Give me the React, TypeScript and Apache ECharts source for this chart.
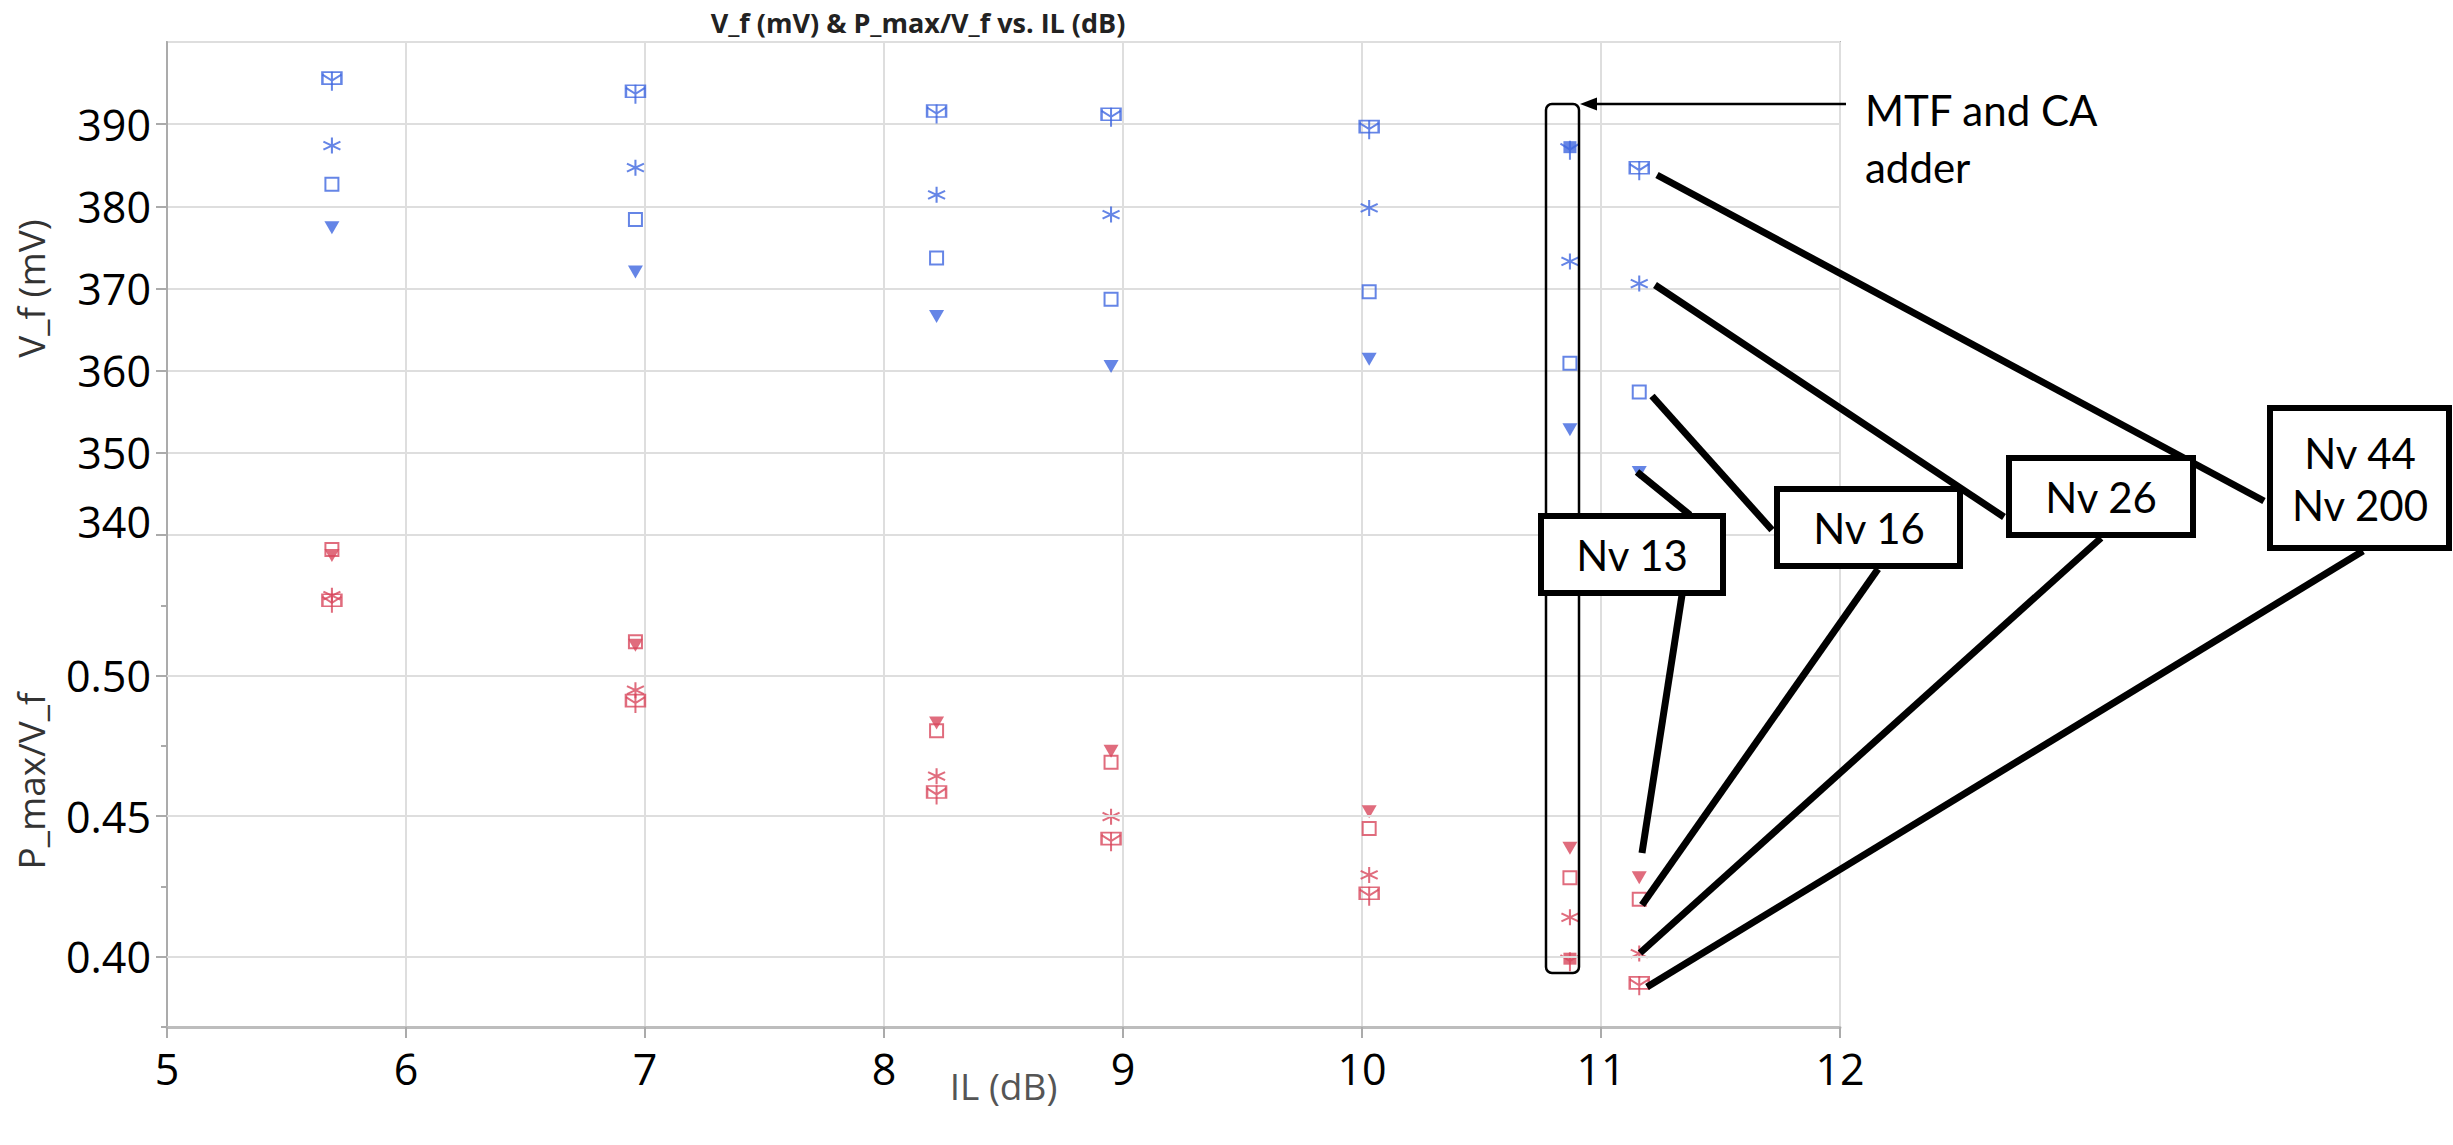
import React, { useEffect, useRef } from "react";
import * as echarts from "echarts";

// ---------------- data ----------------
const IL = [5.69, 6.96, 8.22, 8.95, 10.03, 10.87, 11.16];

const VF_NV13 = [377.4, 372.0, 366.6, 360.5, 361.4, 352.8, 347.6];
const VF_NV16 = [382.7, 378.4, 373.7, 368.7, 369.6, 360.9, 357.4];
const VF_NV26 = [387.4, 384.7, 381.4, 379.0, 379.8, 373.3, 370.6];
const VF_NV44 = [395.6, 394.0, 391.6, 391.2, 389.7, 387.2, 384.7];
const VF_NV200 = [395.6, 394.0, 391.6, 391.2, 389.7, 387.2, 384.7];

const PV_NV13 = [0.5427, 0.5108, 0.4831, 0.4731, 0.4516, 0.4386, 0.4281];
const PV_NV16 = [0.5448, 0.512, 0.4804, 0.4692, 0.4456, 0.4281, 0.4204];
const PV_NV26 = [0.5284, 0.4948, 0.4642, 0.4498, 0.4291, 0.414, 0.4011];
const PV_NV44 = [0.5268, 0.4911, 0.4586, 0.442, 0.4226, 0.3993, 0.3907];
const PV_NV200 = [0.5268, 0.4911, 0.4586, 0.442, 0.4226, 0.3993, 0.3907];

const ADDER_INDEX = 5; // the "MTF and CA adder" column
const PV_LABELS = [0.4, 0.45, 0.5];
const PV_MINOR = [0.375, 0.425, 0.475, 0.525];

const TITLE = "V_f (mV) & P_max/V_f vs. IL (dB)";

// ---------------- styles ----------------
const BLUE = "#3F67E0";
const RED = "#D8475C";
const FONT = "'Open Sans', 'Noto Sans', sans-serif";
const ANNO_FONT = "Lato, 'Open Sans', sans-serif";
const GRID_C = "#dedede";
const AXIS_C = "#ababab";

const SYM_ASTERISK = "path://M8 0L8 16M1 4L15 12M1 12L15 4";
const SYM_WIDE = "path://M0 0L20 0L20 12L0 12Z";
const SYM_Y = "path://M1 3L10 9L19 3M10 0L10 19";

function pairs(xs: number[], ys: number[]) {
  return xs.map((x, i) => [x, ys[i]]);
}

function panelSeries(panel: number, color: string, v13: number[], v16: number[], v26: number[], v44: number[], v200: number[]) {
  const ax = { xAxisIndex: panel, yAxisIndex: panel, silent: true, emphasis: { disabled: true }, z: 3 };
  const open = { color: "rgba(0,0,0,0)", borderColor: color, borderWidth: 2 };
  return [
    {
      type: "scatter", name: "Nv 13", ...ax, data: pairs(IL, v13),
      symbol: "triangle", symbolRotate: 180, symbolSize: [15, 13], itemStyle: { color },
    },
    {
      type: "scatter", name: "Nv 16", ...ax, data: pairs(IL, v16),
      symbol: "rect", symbolSize: 13, itemStyle: open,
    },
    {
      type: "scatter", name: "Nv 26", ...ax, data: pairs(IL, v26),
      symbol: SYM_ASTERISK, symbolSize: [17, 16], itemStyle: open,
    },
    {
      type: "scatter", name: "Nv 44", ...ax,
      data: pairs(IL, v44).map((p, i) =>
        i === ADDER_INDEX
          ? { value: p, symbol: "rect", symbolSize: [13, 12], itemStyle: { color, borderWidth: 0 } }
          : { value: p }
      ),
      symbol: SYM_WIDE, symbolSize: [19, 12], itemStyle: open,
    },
    {
      type: "scatter", name: "Nv 200", ...ax, data: pairs(IL, v200),
      symbol: SYM_Y, symbolSize: [19, 19], symbolOffset: [0, 3], itemStyle: open,
    },
  ];
}

function lineEl(x1: number, y1: number, x2: number, y2: number, w = 7) {
  return { type: "line", z: 100, shape: { x1, y1, x2, y2 }, style: { stroke: "#000", lineWidth: w } };
}
function boxEl(x: number, y: number, w: number, h: number) {
  return { type: "rect", z: 101, shape: { x, y, width: w, height: h }, style: { fill: "#fff", stroke: "#000", lineWidth: 6 } };
}
function textEl(text: string, x: number, y: number, lineHeight = 57, align = "center") {
  return {
    type: "text", z: 102, x, y,
    style: { text, fill: "#000", fontSize: 42, fontFamily: ANNO_FONT, align, verticalAlign: "middle", lineHeight },
  };
}

export default function App() {
  const ref = useRef<HTMLDivElement>(null);
  useEffect(() => {
    if (!ref.current) return;
    const chart = echarts.init(ref.current, undefined, { renderer: "svg" });
    const tickLabel = { fontSize: 43, fontFamily: FONT, color: "#000" };
    const option: any = {
      animation: false,
      backgroundColor: "#fff",
      title: {
        text: TITLE, left: 913, top: 4, textAlign: "center",
        textStyle: { fontSize: 27, fontWeight: "bold", fontFamily: FONT, color: "#222" },
      },
      grid: [
        { left: 167, top: 42, width: 1673, height: 493, show: true, borderColor: "#b4b4b4", borderWidth: 2, outerBoundsMode: "none" },
        { left: 167, top: 535, width: 1673, height: 492, show: true, borderColor: "#b4b4b4", borderWidth: 2, outerBoundsMode: "none" },
      ],
      xAxis: [
        {
          gridIndex: 0, type: "value", min: 5, max: 12, interval: 1,
          axisLine: { show: false }, axisTick: { show: false }, axisLabel: { show: false },
          splitLine: { show: true, lineStyle: { color: GRID_C, width: 2 } },
        },
        {
          gridIndex: 1, type: "value", min: 5, max: 12, interval: 1,
          axisLine: { show: true, onZero: false, lineStyle: { color: "#bdbdbd", width: 3 } },
          axisTick: { show: true, length: 11, lineStyle: { color: AXIS_C, width: 2 } },
          axisLabel: { ...tickLabel, margin: 20 },
          splitLine: { show: true, lineStyle: { color: GRID_C, width: 2 } },
          name: "IL (dB)", nameLocation: "middle", nameGap: 40, nameMoveOverlap: false,
          nameTextStyle: { fontSize: 37, fontFamily: FONT, color: "#555" },
        },
      ],
      yAxis: [
        {
          gridIndex: 0, type: "value", min: 340, max: 400, interval: 10, position: "left",
          axisLine: { show: true, onZero: false, lineStyle: { color: AXIS_C, width: 2 } },
          axisTick: { show: true, length: 11, lineStyle: { color: AXIS_C, width: 2 } },
          axisLabel: {
            ...tickLabel, margin: 16, showMinLabel: true, showMaxLabel: false,
            formatter: (v: number) => (v === 400 ? "" : v === 340 ? "{up|340}" : String(v)),
            rich: { up: { ...tickLabel, padding: [0, 0, 28, 0] } },
          },
          splitLine: { show: true, lineStyle: { color: GRID_C, width: 2 } },
          name: "V_f (mV)", nameLocation: "middle", nameGap: 118, nameRotate: 90,
          nameTextStyle: { fontSize: 37, fontFamily: FONT, color: "#333" },
        },
        {
          gridIndex: 1, type: "value", min: 0.375, max: 0.55, interval: 0.025, position: "left",
          axisLine: { show: true, onZero: false, lineStyle: { color: AXIS_C, width: 2 } },
          axisTick: { show: true, length: 11, customValues: PV_LABELS, lineStyle: { color: AXIS_C, width: 2 } },
          axisLabel: {
            ...tickLabel, margin: 16, customValues: PV_LABELS,
            formatter: (v: number) => {
              const k = Math.round(v * 1000);
              return k === 400 || k === 450 || k === 500 ? (k / 1000).toFixed(2) : "";
            },
          },
          splitLine: { show: false },
          name: "P_max/V_f", nameLocation: "middle", nameGap: 118, nameRotate: 90,
          nameTextStyle: { fontSize: 37, fontFamily: FONT, color: "#333" },
        },
        {
          gridIndex: 1, type: "value", min: 0.375, max: 0.55, interval: 0.05, position: "left", offset: 0,
          axisLine: { show: false }, axisLabel: { show: false }, splitLine: { show: false },
          axisTick: { show: true, length: 6, customValues: PV_MINOR, lineStyle: { color: AXIS_C, width: 2 } },
        },
      ],
      series: [
        {
          type: "scatter", name: "grid", xAxisIndex: 1, yAxisIndex: 1, data: [], z: 1, silent: true,
          markLine: {
            silent: true, symbol: ["none", "none"], label: { show: false }, animation: false,
            lineStyle: { color: GRID_C, width: 2, type: "solid" },
            emphasis: { disabled: true },
            data: PV_LABELS.map((v) => ({ yAxis: v })),
          },
        },
        ...panelSeries(0, BLUE, VF_NV13, VF_NV16, VF_NV26, VF_NV44, VF_NV200),
        ...panelSeries(1, RED, PV_NV13, PV_NV16, PV_NV26, PV_NV44, PV_NV200),
      ],
      graphic: [
        // rounded frame around the adder column
        { type: "rect", z: 99, shape: { x: 1546, y: 104, width: 33, height: 869, r: 6 }, style: { fill: "none", stroke: "#000", lineWidth: 2.5 } },
        // arrow
        lineEl(1846, 104, 1592, 104, 2.5),
        { type: "polygon", z: 100, shape: { points: [[1580, 104], [1597, 97.5], [1597, 110.5]] }, style: { fill: "#000" } },
        textEl("MTF and CA\nadder", 1865, 138, 57, "left"),
        // leader lines
        lineEl(1657, 175, 2264, 501),
        lineEl(1655, 285, 2004, 517),
        lineEl(1652, 396, 1772, 530),
        lineEl(1637, 472, 1690, 515),
        lineEl(1682, 595, 1642, 853),
        lineEl(1878, 569, 1642, 905),
        lineEl(2101, 538, 1640, 953),
        lineEl(2363, 551, 1647, 987),
        // boxes
        boxEl(1541, 516, 182, 77),
        boxEl(1777, 489, 183, 77),
        boxEl(2009, 458, 184, 77),
        boxEl(2270, 408, 179, 140),
        textEl("Nv 13", 1632, 555),
        textEl("Nv 16", 1869, 528),
        textEl("Nv 26", 2101, 497),
        textEl("Nv 44\nNv 200", 2360, 479, 52),
      ],
    };
    chart.setOption(option);
    return () => chart.dispose();
  }, []);
  return (
    <div
      ref={ref}
      style={{ position: "fixed", left: 0, top: 0, width: 2453, height: 1145, background: "#fff" }}
    />
  );
}
